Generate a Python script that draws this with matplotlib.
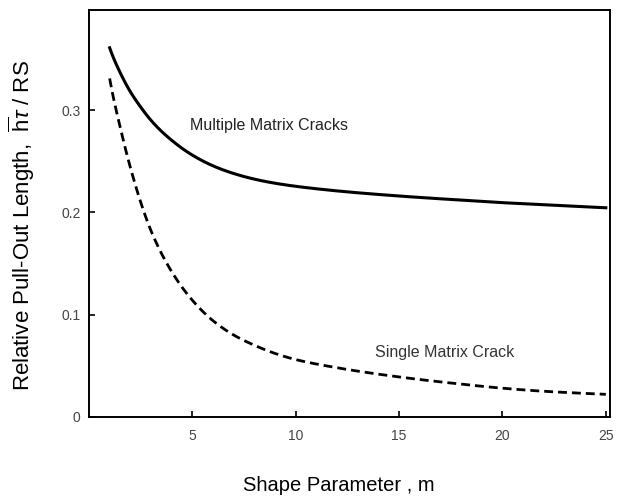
import numpy as np
import matplotlib.pyplot as plt

plt.rcParams['font.family'] = ['Liberation Sans', 'DejaVu Sans']
plt.rcParams['mathtext.fontset'] = 'custom'
plt.rcParams['mathtext.rm'] = 'Liberation Sans'
plt.rcParams['mathtext.it'] = 'Liberation Sans:italic'

# shape parameter m
m = [1, 1.5, 2, 2.5, 3, 4, 5, 6, 7, 8, 9, 10, 12, 15, 18, 20, 22, 25]

# relative pull-out length, multiple matrix cracks
multiple = [0.361, 0.337, 0.318, 0.303, 0.290, 0.2705, 0.256, 0.2455, 0.238,
            0.2325, 0.2285, 0.2255, 0.221, 0.216, 0.212, 0.2095, 0.2075, 0.2045]

# relative pull-out length, single matrix crack
single = [0.331, 0.284, 0.244, 0.210, 0.182, 0.142, 0.114, 0.094, 0.080,
          0.070, 0.062, 0.056, 0.048, 0.039, 0.032, 0.028, 0.025, 0.022]

xticks = [5, 10, 15, 20, 25]
yticks = [0, 0.1, 0.2, 0.3]
ytick_labels = ['0', '0.1', '0.2', '0.3']


def pchip(x, y, n=500):
    # Fritsch-Carlson monotone cubic, done in log(m) so the knee stays smooth
    x = np.log(np.asarray(x, float))
    y = np.asarray(y, float)
    h = np.diff(x)
    d = np.diff(y) / h
    s = np.zeros_like(y)
    for i in range(1, len(x) - 1):
        if d[i - 1] * d[i] > 0:
            w1 = 2 * h[i] + h[i - 1]
            w2 = h[i] + 2 * h[i - 1]
            s[i] = (w1 + w2) / (w1 / d[i - 1] + w2 / d[i])
    s[0] = d[0]
    s[-1] = d[-1]
    xs = np.log(np.linspace(np.exp(x[0]), np.exp(x[-1]), n))
    idx = np.clip(np.searchsorted(x, xs) - 1, 0, len(h) - 1)
    t = (xs - x[idx]) / h[idx]
    h00 = 2 * t**3 - 3 * t**2 + 1
    h10 = t**3 - 2 * t**2 + t
    h01 = -2 * t**3 + 3 * t**2
    h11 = t**3 - t**2
    ys = (h00 * y[idx] + h10 * h[idx] * s[idx]
          + h01 * y[idx + 1] + h11 * h[idx] * s[idx + 1])
    return np.exp(xs), ys


fig = plt.figure(figsize=(6.18, 4.98), dpi=100)
ax = fig.add_axes([0.144, 0.163, 0.843, 0.817])

xs, ys = pchip(m, multiple)
ax.plot(xs, ys, color='black', lw=2.2)
xs, ys = pchip(m, single)
ax.plot(xs, ys, color='black', lw=2.0, linestyle=(0, (3.2, 1.8)))

ax.text(4.9, 0.285, 'Multiple Matrix Cracks', fontsize=11.5, ha='left',
        va='center', color='#222222')
ax.text(13.85, 0.063, 'Single Matrix Crack', fontsize=11.5, ha='left',
        va='center', color='#333333')

ax.set_xlim(0, 25.2)
ax.set_ylim(0, 0.398)
ax.set_xticks(xticks)
ax.set_yticks(yticks)
ax.set_yticklabels(ytick_labels)

ax.tick_params(direction='in', length=4, width=1.2, colors='black',
               labelcolor='#444444', labelsize=10)
ax.tick_params(axis='x', pad=9)
ax.tick_params(axis='y', pad=6)

for s in ax.spines.values():
    s.set_linewidth(1.4)

ax.set_xlabel('Shape Parameter , m', fontsize=14.5)
ax.set_ylabel(r'Relative Pull-Out Length,  $\overline{\mathrm{h}}\tau$ / RS',
              fontsize=16)
ax.xaxis.set_label_coords(0.48, -0.145)
ax.yaxis.set_label_coords(-0.1, 0.47)

fig.savefig('out.png', dpi=100)
